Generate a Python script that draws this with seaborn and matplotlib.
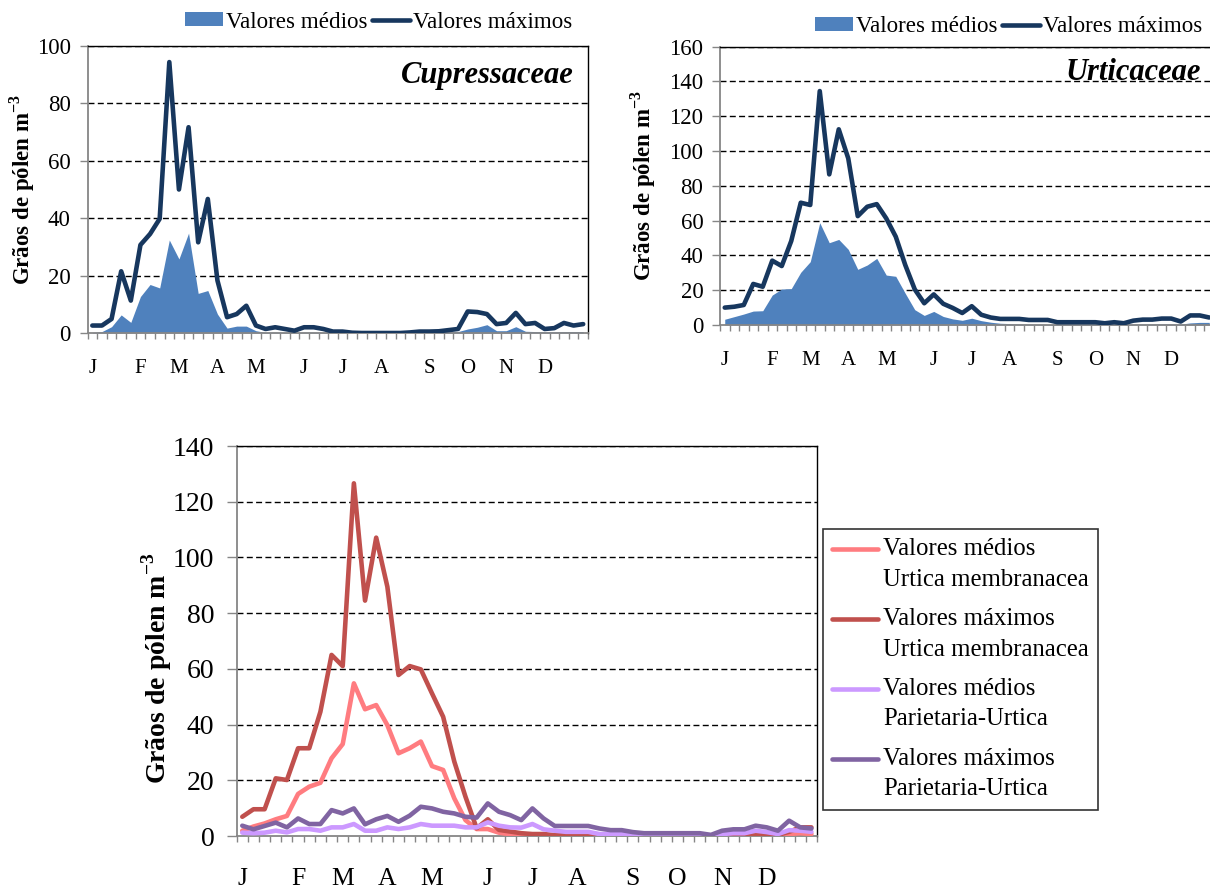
import numpy as np
import pandas as pd
import matplotlib
matplotlib.use("Agg")
import matplotlib.pyplot as plt
import seaborn as sns
from matplotlib.legend_handler import HandlerLine2D

# ---- data: weekly pollen concentrations (52 weeks) ----
months = ["J", "F", "M", "A", "M", "J", "J", "A", "S", "O", "N", "D"]
month_week = [0, 5, 9, 13, 17, 22, 26, 30, 35, 39, 43, 47]
weeks = np.arange(52)

cup_mean = [0.2, 0.5, 2.2, 6.3, 3.7, 12.7, 16.9, 15.7, 32.4, 25.8,
            34.8, 13.8, 14.8, 6.6, 1.7, 2.4, 2.4, 0.8, 0.2, 0.3,
            0.2, 0.1, 0.3, 0.3, 0.2, 0.1, 0.1, 0.0, 0.0, 0.0,
            0.0, 0.0, 0.0, 0.0, 0.1, 0.1, 0.1, 0.3, 0.5, 1.4,
            2.0, 2.9, 0.8, 0.8, 2.2, 0.6, 0.5, 0.4, 0.4, 0.5, 0.5, 0.5]
cup_max = [2.6, 2.6, 4.9, 21.5, 11.3, 30.7, 34.5, 39.8, 94.4, 50.0,
           71.7, 31.6, 46.7, 18.3, 5.5, 6.6, 9.5, 2.6, 1.4, 2.0,
           1.4, 0.8, 2.0, 2.0, 1.4, 0.5, 0.5, 0.1, 0.0, 0.0,
           0.0, 0.0, 0.0, 0.2, 0.5, 0.5, 0.6, 1.0, 1.4, 7.5,
           7.3, 6.6, 3.1, 3.5, 7.0, 3.1, 3.5, 1.4, 1.7, 3.5, 2.6, 3.1]

urt_mean = [3.3, 4.8, 6.3, 8.0, 8.2, 17.2, 20.7, 20.9, 30.3, 36.4,
            58.8, 47.3, 49.2, 43.5, 32.0, 34.5, 38.3, 28.7, 28.0, 18.2,
            8.8, 5.5, 7.8, 4.9, 3.5, 2.7, 3.9, 2.5, 1.6, 1.0,
            0.8, 0.6, 0.5, 0.4, 0.3, 0.3, 0.3, 0.3, 0.3, 0.3,
            0.2, 0.3, 0.2, 0.5, 0.6, 0.6, 0.7, 0.7, 0.5, 1.2, 1.5, 1.5]
urt_max = [10.0, 10.5, 11.5, 23.6, 22.0, 37.0, 33.9, 48.3, 70.3, 69.0,
           134.5, 86.6, 112.5, 95.8, 62.6, 68.0, 69.5, 61.3, 50.8, 34.5,
           20.5, 12.5, 17.6, 12.2, 9.8, 6.9, 10.8, 5.9, 4.3, 3.5,
           3.5, 3.5, 2.9, 2.9, 2.9, 1.6, 1.6, 1.6, 1.6, 1.6,
           1.0, 1.6, 1.0, 2.5, 3.1, 3.1, 3.7, 3.7, 2.0, 5.5, 5.5, 4.3]

um_mean = [1.9, 3.4, 4.5, 6.0, 7.2, 15.1, 17.7, 19.1, 27.9, 33.0,
           54.8, 45.5, 47.0, 39.8, 29.7, 31.5, 33.9, 25.1, 23.7, 13.5,
           5.7, 2.5, 2.5, 1.2, 0.6, 0.3, 0.2, 0.2, 0.1, 0.1,
           0.1, 0.1, 0.1, 0.1, 0.1, 0.0, 0.0, 0.1, 0.0, 0.0,
           0.0, 0.0, 0.0, 0.1, 0.1, 0.1, 0.2, 0.2, 0.2, 0.7, 1.0, 0.7]
um_max = [6.9, 9.6, 9.6, 20.7, 20.1, 31.5, 31.5, 44.6, 65.0, 61.0,
          126.6, 84.5, 107.1, 89.5, 57.8, 61.0, 59.8, 51.2, 42.8, 26.7,
          14.1, 2.8, 6.0, 2.2, 1.6, 1.0, 0.7, 0.7, 0.3, 0.2,
          0.2, 0.2, 0.2, 0.2, 0.2, 0.1, 0.1, 0.2, 0.1, 0.1,
          0.1, 0.1, 0.1, 0.2, 0.2, 0.3, 0.3, 0.4, 0.4, 1.5, 3.1, 3.1]
pu_mean = [1.2, 1.0, 1.2, 1.9, 1.3, 2.5, 2.5, 1.9, 3.1, 3.1,
           4.3, 1.9, 1.9, 3.1, 2.5, 3.1, 4.3, 3.7, 3.7, 3.7,
           3.1, 3.1, 4.9, 3.7, 3.1, 3.0, 4.3, 2.4, 1.9, 1.5,
           1.5, 1.5, 0.7, 0.7, 0.7, 0.4, 0.2, 0.2, 0.2, 0.2,
           0.2, 0.2, 0.1, 0.7, 1.0, 1.0, 1.9, 1.4, 0.7, 2.1, 1.9, 1.5]
pu_max = [3.7, 2.4, 3.6, 4.8, 3.1, 6.3, 4.3, 4.3, 9.3, 8.1,
          9.9, 4.2, 6.0, 7.2, 5.1, 7.3, 10.5, 9.9, 8.7, 8.1,
          6.9, 6.6, 11.7, 8.7, 7.5, 5.7, 9.9, 6.3, 3.6, 3.6,
          3.6, 3.6, 2.7, 2.1, 2.1, 1.4, 1.0, 1.0, 1.0, 1.0,
          1.0, 1.0, 0.4, 1.9, 2.4, 2.4, 3.7, 3.1, 1.9, 5.5, 3.1, 2.7]

series_labels = ["Valores médios\nUrtica membranacea",
                 "Valores máximos\nUrtica membranacea",
                 "Valores médios\nParietaria-Urtica",
                 "Valores máximos\nParietaria-Urtica"]
series_colors = ["#FF7C80", "#C0504D", "#CC99FF", "#8064A2"]

FILL = "#4F81BD"
NAVY = "#17375E"
AXIS_GREY = "#868686"

# ---- style ----
sns.set_theme(style="white")
plt.rcParams["font.family"] = ["Liberation Serif", "DejaVu Serif"]
plt.rcParams["mathtext.fontset"] = "custom"
plt.rcParams["mathtext.rm"] = "Liberation Serif"
plt.rcParams["mathtext.bf"] = "Liberation Serif:bold"
plt.rcParams["text.color"] = "black"
plt.rcParams["xtick.color"] = "black"
plt.rcParams["ytick.color"] = "black"

W, H = 1210, 893
fig = plt.figure(figsize=(W / 100, H / 100), dpi=100)


def add_axes_px(x0, y0, x1, y1):
    return fig.add_axes([x0 / W, 1 - y1 / H, (x1 - x0) / W, (y1 - y0) / H])


def style_axes(ax, ymax, tick_fs, month_fs, ytick_len, ytick_pad, month_pad):
    ax.set_xlim(-0.5, 51.5)
    ax.set_ylim(0, ymax)
    yt = np.arange(0, ymax + 1, 20)
    ax.set_yticks(yt)
    ax.set_yticklabels([f"{v:g}" for v in yt], fontsize=tick_fs)
    for v in yt[1:]:
        ax.axhline(v, color="black", lw=1.0, ls=(0, (4.3, 2.4)), zorder=0.5)
    ax.set_xticks(month_week)
    ax.set_xticklabels(months, fontsize=month_fs)
    ax.set_xticks(np.arange(-0.5, 52, 1), minor=True)
    ax.tick_params(axis="x", which="major", bottom=True, length=0, pad=month_pad)
    ax.tick_params(axis="x", which="minor", bottom=True, length=4.5, width=1.0,
                   color=AXIS_GREY, direction="out")
    ax.tick_params(axis="y", which="major", left=True, length=ytick_len, width=1.0,
                   color=AXIS_GREY, direction="out", pad=ytick_pad)
    for s in ["left", "bottom"]:
        ax.spines[s].set_color(AXIS_GREY)
        ax.spines[s].set_linewidth(1.3)
    for s in ["top", "right"]:
        ax.spines[s].set_color("black")
        ax.spines[s].set_linewidth(1.0)
    ax.set_xlabel("")
    ax.set_ylabel("")


ylabel_text = r"Grãos de pólen m$^{\mathbf{-3}}$"


def top_panel(ax, mean, maxv, ymax, title, title_xy, ylabel_x, legend_xy):
    style_axes(ax, ymax, 16.5, 15, 5.5, 6.5, 19)
    area = ax.fill_between(weeks, mean, color=FILL, lw=0, zorder=2)
    sns.lineplot(x=weeks, y=maxv, ax=ax, color=NAVY, lw=3.3, zorder=3,
                 solid_joinstyle="round", solid_capstyle="round")
    line = ax.lines[-1]
    ax.set_xlabel("")
    ax.set_ylabel("")
    ax.text(title_xy[0], title_xy[1], title, transform=ax.transAxes, ha="right",
            va="baseline", fontsize=22, fontweight="bold", fontstyle="italic")
    ax.text(ylabel_x, 0.5, ylabel_text, transform=ax.transAxes, rotation=90,
            ha="center", va="center", fontsize=16.5, fontweight="bold")
    ax.legend([area, line], ["Valores médios", "Valores máximos"],
              loc="center left", bbox_to_anchor=legend_xy, bbox_transform=fig.transFigure,
              ncol=2, frameon=False, fontsize=16.6, handlelength=1.65, handleheight=0.55,
              handletextpad=0.12, columnspacing=0.22, borderpad=0, borderaxespad=0)


# ---- Cupressaceae ----
ax1 = add_axes_px(87.5, 46, 588, 333)
top_panel(ax1, cup_mean, cup_max, 100, "Cupressaceae", (0.972, 0.871), -0.13,
          (185 / W, 1 - 22 / H))

# ---- Urticaceae ----
ax2 = add_axes_px(720, 46.7, 1214, 325)
top_panel(ax2, urt_mean, urt_max, 160, "Urticaceae", (0.974, 0.880), -0.156,
          (815 / W, 1 - 27 / H))

# ---- Urtica membranacea / Parietaria-Urtica ----
ax3 = add_axes_px(236.7, 446, 817, 836)
style_axes(ax3, 140, 20, 18.5, 7, 9, 23)
df = pd.DataFrame({
    "week": np.tile(weeks, 4),
    "value": np.concatenate([um_mean, um_max, pu_mean, pu_max]),
    "serie": np.repeat(series_labels, 52),
})
sns.lineplot(data=df, x="week", y="value", hue="serie", hue_order=series_labels,
             palette=series_colors, lw=3.3, ax=ax3, legend=False, zorder=3,
             solid_joinstyle="round", solid_capstyle="round")
ax3.set_xlabel("")
ax3.set_ylabel("")
ax3.text(-0.137, 0.43, ylabel_text, transform=ax3.transAxes, rotation=90,
         ha="center", va="center", fontsize=20, fontweight="bold")

data_lines = ax3.lines[-4:]


class FirstLineHandler(HandlerLine2D):
    """Legend line placed beside the first row of a two-row label."""

    def __init__(self, shift, **kw):
        super().__init__(**kw)
        self.shift = shift

    def create_artists(self, legend, orig_handle, xdescent, ydescent, width,
                       height, fontsize, trans):
        arts = super().create_artists(legend, orig_handle, xdescent, ydescent,
                                      width, height, fontsize, trans)
        for a in arts:
            a.set_ydata(np.asarray(a.get_ydata(), dtype=float) + self.shift * fontsize)
        return arts


handler = FirstLineHandler(0.62)
leg = ax3.legend(data_lines, series_labels, loc="upper left",
                 bbox_to_anchor=(823 / W, 1 - 529 / H), bbox_transform=fig.transFigure,
                 frameon=True, fancybox=False, edgecolor="black", fontsize=17.8,
                 handlelength=1.85, handletextpad=0.2, borderpad=0.38,
                 labelspacing=0.72, borderaxespad=0,
                 handler_map={ln: handler for ln in data_lines})
leg.get_frame().set_linewidth(1.2)
for t in leg.get_texts():
    t.set_linespacing(1.48)

fig.savefig("out.png", dpi=100)
